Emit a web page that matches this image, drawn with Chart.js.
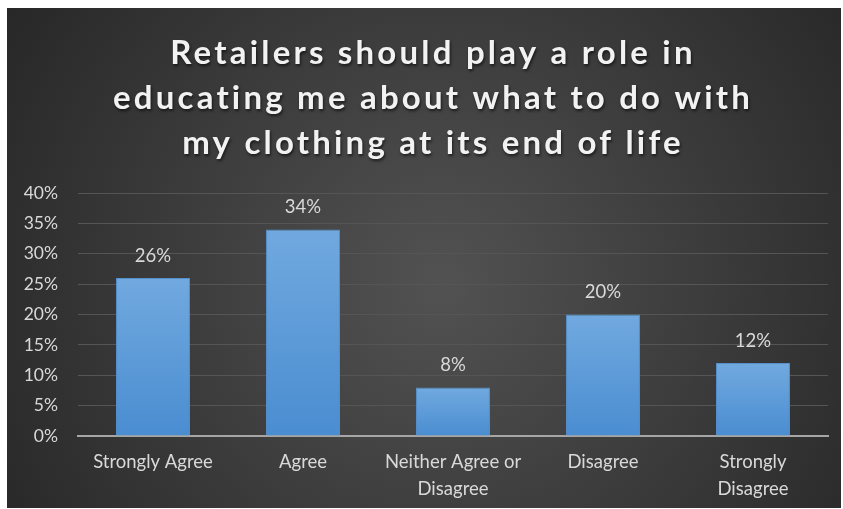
<!DOCTYPE html>
<html>
<head>
<meta charset="utf-8">
<script src="https://cdn.jsdelivr.net/npm/chart.js@4"></script>
<style>
  html, body { margin: 0; padding: 0; background: #ffffff; }
  #wrap { position: absolute; left: 7px; top: 8px; width: 834px; height: 500px; }
</style>
</head>
<body>
<div id="wrap"><canvas id="myChart"></canvas></div>
<script>
// chart data
const titleLines = ['Retailers should play a role in', 'educating me about what to do with', 'my clothing at its end of life'];
const categories = [['Strongly Agree'], ['Agree'], ['Neither Agree or', 'Disagree'], ['Disagree'], ['Strongly', 'Disagree']];
const percents = [26, 34, 8, 20, 12];
const yTicks = [0, 5, 10, 15, 20, 25, 30, 35, 40];

const FONT = 'Lato, "Open Sans", sans-serif';

//dark radial background
const bgPlugin = {
  id: 'bg',
  beforeDraw(chart) {
    const ctx = chart.ctx;
    const w = chart.width, h = chart.height;
    const g = ctx.createRadialGradient(w * 0.52, h * 0.55, 0, w * 0.52, h * 0.55, w * 0.62);
    g.addColorStop(0, '#525252');
    g.addColorStop(1, '#272727');
    ctx.save();
    ctx.fillStyle = g;
    ctx.fillRect(0, 0, w, h);
    ctx.restore();
  }
};

//title with letter spacing and shadow
const titlePlugin = {
  id: 'bigTitle',
  afterDraw(chart) {
    const ctx = chart.ctx;
    ctx.save();
    ctx.font = 'bold 33px ' + FONT;
    ctx.letterSpacing = '3.2px';
    ctx.textAlign = 'center';
    ctx.textBaseline = 'middle';
    ctx.fillStyle = '#f2f2f2';
    ctx.shadowColor = 'rgba(0,0,0,0.6)';
    ctx.shadowBlur = 3;
    ctx.shadowOffsetX = 1;
    ctx.shadowOffsetY = 2;
    titleLines.forEach(function (line, i) {
      ctx.fillText(line, 426, 45 + i * 45);
    });
    ctx.restore();
  }
};

//value labels above bars
const labelPlugin = {
  id: 'valueLabels',
  afterDatasetsDraw(chart) {
    const ctx = chart.ctx;
    const meta = chart.getDatasetMeta(0);
    ctx.save();
    ctx.font = '18.5px ' + FONT;
    ctx.fillStyle = '#d9d9d9';
    ctx.textAlign = 'center';
    ctx.textBaseline = 'middle';
    meta.data.forEach(function (bar, i) {
      ctx.fillText(percents[i] + '%', bar.x, bar.y - 22);
    });
    ctx.restore();
  }
};

function barFill(context) {
  const chart = context.chart;
  const y = chart.scales.y;
  if (!y || !chart.chartArea || context.raw == null) return '#5b9bd5';
  const top = y.getPixelForValue(context.raw);
  const bottom = y.getPixelForValue(0);
  const g = chart.ctx.createLinearGradient(0, top, 0, bottom);
  g.addColorStop(0, '#71a9df');
  g.addColorStop(1, '#4a8dd1');
  return g;
}

let ctx = document.getElementById('myChart');
let myChart = new Chart(ctx, {
  type: 'bar',
  data: {
    labels: categories,
    datasets: [{
      data: percents,
      backgroundColor: barFill,
      borderColor: '#5590cc',
      borderWidth: 1,
      categoryPercentage: 1,
      barPercentage: 0.493
    }]
  },
  options: {
    responsive: true,
    maintainAspectRatio: false,
    animation: false,
    layout: { padding: { top: 185, right: 13, left: 0, bottom: 0 } },
    plugins: {
      legend: { display: false },
      title: { display: false },
      tooltip: { enabled: false }
    },
    scales: {
      x: {
        grid: { display: false, drawTicks: false },
        border: { color: '#a6a6a6', width: 2 },
        ticks: {
          color: '#d9d9d9',
          font: { family: FONT, size: 18.5, lineHeight: 1.46 },
          padding: 13,
          maxRotation: 0,
          autoSkip: false
        },
        afterFit(scale) { scale.height = 72; }
      },
      y: {
        min: 0,
        max: 40,
        afterBuildTicks(scale) {
          scale.ticks = yTicks.map(function (v) { return { value: v }; });
        },
        grid: { color: '#555555', lineWidth: 1, drawTicks: false },
        border: { display: false },
        ticks: {
          color: '#d9d9d9',
          font: { family: FONT, size: 17.5 },
          padding: 20,
          callback: function (v) { return v + '%'; }
        },
        afterFit(scale) { scale.width = 71; }
      }
    }
  },
  plugins: [bgPlugin, labelPlugin, titlePlugin]
});
</script>
</body>
</html>
